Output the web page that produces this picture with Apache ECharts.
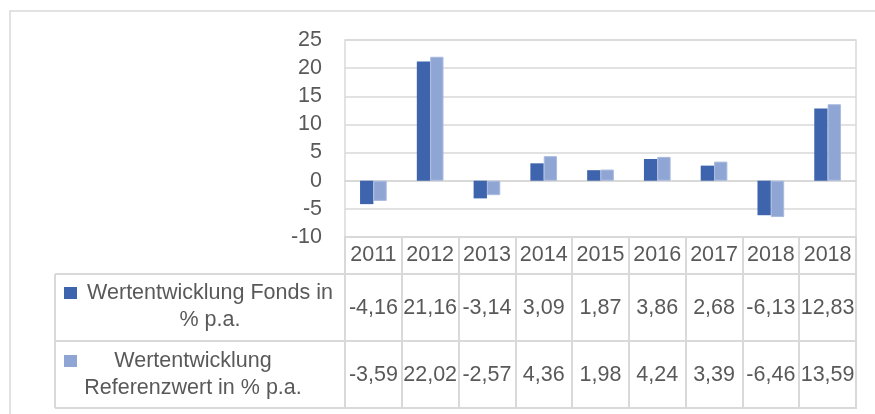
<!DOCTYPE html>
<html>
<head>
<meta charset="utf-8">
<script src="https://cdn.jsdelivr.net/npm/echarts@6/dist/echarts.min.js"></script>
<style>
  html, body { margin: 0; padding: 0; background: #ffffff; }
  #chart { width: 875px; height: 414px; }
</style>
</head>
<body>
<div id="chart"></div>
<script>
// ---- data ----
const years = ['2011', '2012', '2013', '2014', '2015', '2016', '2017', '2018', '2018'];
const fonds = [-4.16, 21.16, -3.14, 3.09, 1.87, 3.86, 2.68, -6.13, 12.83];
const referenz = [-3.59, 22.02, -2.57, 4.36, 1.98, 4.24, 3.39, -6.46, 13.59];
const rowLabels = ['Wertentwicklung Fonds in\n% p.a.', 'Wertentwicklung\nReferenzwert in % p.a.'];
const yMin = -10, yMax = 25, yStep = 5;

// ---- layout / style ----
const PLOT = { left: 345, top: 40, width: 511, height: 197 };
const TABLE = { left: 55, rowTops: [274, 341, 408] };
const FONT = 'Liberation Sans';
const TXT = '#595959';
const LINE = '#d9d9d9';
const C1 = '#3d64ad', C2 = '#8fa5d4';

const fmt = v => v.toFixed(2).replace('.', ',');
const right = PLOT.left + PLOT.width;
const bottom = PLOT.top + PLOT.height;

const chart = echarts.init(document.getElementById('chart'), null, { renderer: 'canvas' });

const graphics = [
  { type: 'rect', silent: true, shape: { x: 10, y: 11, width: 900, height: 450 },
    style: { fill: 'none', stroke: LINE, lineWidth: 1.5 } },
];
TABLE.rowTops.forEach(y => graphics.push({
  type: 'line', silent: true, shape: { x1: TABLE.left, y1: y, x2: right, y2: y },
  style: { stroke: LINE, lineWidth: 2 }
}));
graphics.push({
  type: 'line', silent: true,
  shape: { x1: TABLE.left, y1: TABLE.rowTops[0], x2: TABLE.left, y2: TABLE.rowTops[2] },
  style: { stroke: LINE, lineWidth: 2 }
});
// row headers (legend keys + names)
[[C1, 287, 210, 306.5], [C2, 355, 193, 374.5]].forEach((r, i) => {
  graphics.push({ type: 'rect', silent: true, shape: { x: 64, y: r[1], width: 13, height: 12 },
    style: { fill: r[0] } });
  graphics.push({ type: 'text', silent: true, x: r[2], y: r[3],
    style: { text: rowLabels[i], align: 'center', verticalAlign: 'middle',
      font: '21.5px "' + FONT + '"', lineHeight: 27, fill: TXT } });
});

chart.setOption({
  animation: false,
  backgroundColor: '#ffffff',
  textStyle: { fontFamily: FONT },
  grid: [
    { left: PLOT.left, top: PLOT.top, width: PLOT.width, height: PLOT.height,
      show: true, borderColor: LINE, borderWidth: 1.5, containLabel: false },
    { left: PLOT.left, top: bottom, width: PLOT.width, height: TABLE.rowTops[2] - bottom,
      show: true, borderColor: LINE, borderWidth: 2, containLabel: false }
  ],
  xAxis: [
    {
      type: 'category', gridIndex: 0,
      data: years,
      axisLine: { show: true, lineStyle: { color: LINE, width: 2 } },
      axisTick: { show: false },
      axisLabel: {
        interval: 0, margin: 0, color: TXT,
        formatter: (v, i) => '{y|' + v + '}\n{a|' + fmt(fonds[i]) + '}\n{b|' + fmt(referenz[i]) + '}',
        rich: {
          y: { fontSize: 21.5, lineHeight: 37, color: TXT, fontFamily: FONT },
          a: { fontSize: 21.5, lineHeight: 68, color: TXT, fontFamily: FONT },
          b: { fontSize: 21.5, lineHeight: 66, color: TXT, fontFamily: FONT }
        }
      },
      splitLine: { show: false }
    },
    {
      type: 'category', gridIndex: 1,
      data: years,
      axisLine: { show: false }, axisTick: { show: false }, axisLabel: { show: false },
      splitLine: { show: true, interval: 0, lineStyle: { color: LINE, width: 2 } }
    }
  ],
  yAxis: [
    {
      type: 'value', gridIndex: 0, min: yMin, max: yMax, interval: yStep,
      axisLine: { show: false }, axisTick: { show: false },
      axisLabel: { color: TXT, fontSize: 21.5, margin: 23, fontFamily: FONT },
      splitLine: { lineStyle: { color: LINE, width: 1.5 } }
    },
    { type: 'value', gridIndex: 1, min: 0, max: 1, show: false, splitLine: { show: false } }
  ],
  graphic: graphics,
  series: [
    { name: rowLabels[0].replace('\n', ' '), type: 'bar', data: fonds,
      xAxisIndex: 0, yAxisIndex: 0,
      barGap: '0%', barCategoryGap: '53%',
      itemStyle: { color: C1 } },
    { name: rowLabels[1].replace('\n', ' '), type: 'bar', data: referenz,
      xAxisIndex: 0, yAxisIndex: 0,
      barGap: '0%', barCategoryGap: '53%',
      itemStyle: { color: C2, borderColor: '#a9badf', borderWidth: 1 } }
  ]
});
</script>
</body>
</html>
